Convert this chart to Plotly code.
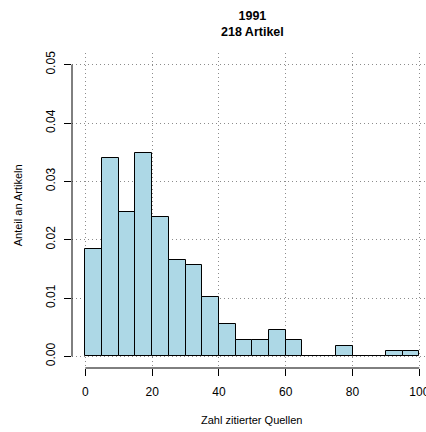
import plotly.graph_objects as go

# Histogram data: bins of width 5 (number of cited sources), article counts
bin_left = [0, 5, 10, 15, 20, 25, 30, 35, 40, 45, 50, 55, 60, 65, 70, 75, 80, 85, 90, 95]
counts = [20, 37, 27, 38, 26, 18, 17, 11, 6, 3, 3, 5, 3, 0, 0, 2, 0, 0, 1, 1]
bin_width = 5
x_ticks = [0, 20, 40, 60, 80, 100]
y_ticks = [0.00, 0.01, 0.02, 0.03, 0.04, 0.05]
y_tick_text = ["0.00", "0.01", "0.02", "0.03", "0.04", "0.05"]

total = sum(counts)
density = [c / (total * bin_width) for c in counts]
centers = [b + bin_width / 2 for b in bin_left]

FONT = "Liberation Sans, Arial, Helvetica, sans-serif"
GRID = "#8c8c8c"

fig = go.Figure()
fig.add_trace(go.Bar(
    x=centers, y=density, width=[bin_width] * len(centers),
    marker=dict(color="#ADD8E6", line=dict(color="black", width=1)),
    hoverinfo="skip",
))

fig.update_layout(
    width=426, height=432,
    margin=dict(l=72, r=0, t=53, b=64, autoexpand=False),
    paper_bgcolor="white", plot_bgcolor="white",
    showlegend=False,
    bargap=0,
    font=dict(family=FONT, size=12, color="black"),
    xaxis=dict(
        range=[-4, 102], tickvals=x_ticks, ticks="outside", ticklen=7,
        tickcolor="black", tickwidth=1, showline=False, zeroline=False,
        showgrid=True, gridcolor=GRID, griddash="1px,3px", gridwidth=1,
        tickfont=dict(size=12), ticklabelstandoff=6,
        ticklabeloverflow="allow", automargin=False,
    ),
    yaxis=dict(
        range=[-0.002, 0.052], tickvals=y_ticks, ticktext=y_tick_text,
        ticks="outside", ticklen=7, tickcolor="black", tickwidth=1,
        showline=False, zeroline=False,
        showgrid=True, gridcolor=GRID, griddash="1px,3px", gridwidth=1,
        tickangle=-90, tickfont=dict(size=12), ticklabelstandoff=4,
        automargin=False,
    ),
    shapes=[
        dict(type="line", xref="x", yref="paper", x0=x_ticks[0], x1=x_ticks[-1],
             y0=0, y1=0, line=dict(color="black", width=1)),
        dict(type="line", xref="paper", yref="y", x0=0, x1=0,
             y0=y_ticks[0], y1=y_ticks[-1], line=dict(color="black", width=1)),
    ],
    annotations=[
        dict(text="<b>1991</b><br><b>218 Artikel</b>", xref="x", yref="paper",
             x=50, y=1.0, yshift=12, yanchor="bottom", showarrow=False,
             font=dict(size=12.5), align="center"),
        dict(text="Zahl zitierter Quellen", xref="x", yref="paper",
             x=50, y=-0.165, yanchor="middle", showarrow=False,
             font=dict(size=11)),
        dict(text="Anteil an Artikeln", xref="paper", yref="y",
             x=-0.1525, y=0.0259, xanchor="center", yanchor="middle",
             textangle=-90, showarrow=False, font=dict(size=11)),
    ],
)

fig.write_html("out.html")
